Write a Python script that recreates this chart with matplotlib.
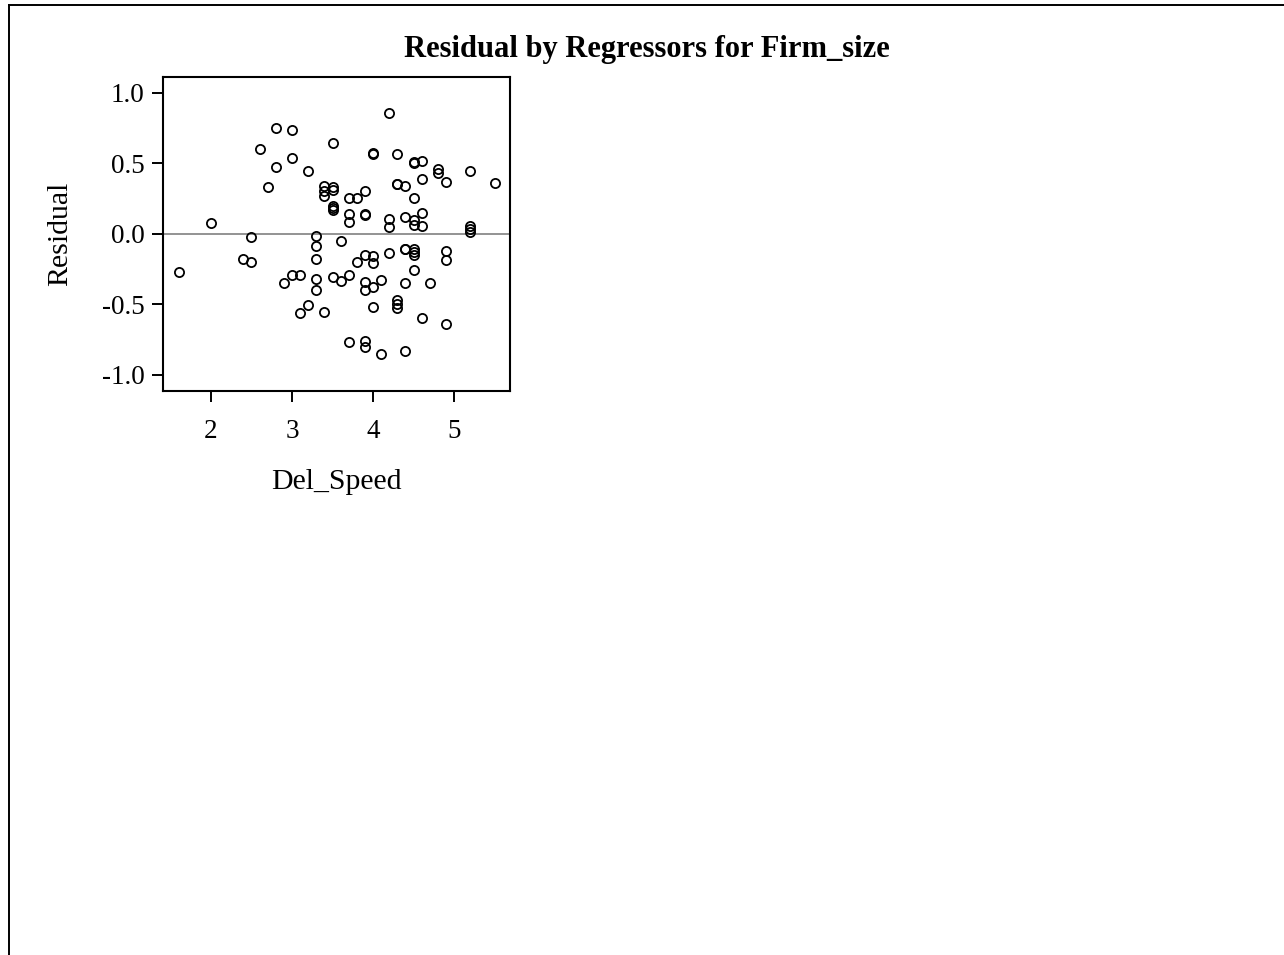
import matplotlib as mpl
mpl.use("Agg")
import matplotlib.pyplot as plt
from matplotlib.lines import Line2D
import numpy as np

plt.rcParams['font.family'] = ['Liberation Serif', 'DejaVu Serif']

# residuals by Del_Speed
del_speed = [1.6, 2.0, 2.4, 2.5, 2.5, 2.6, 2.7, 2.8, 2.8, 2.9,
             3.0, 3.0, 3.0, 3.1, 3.1, 3.2, 3.2,
             3.3, 3.3, 3.3, 3.3, 3.3,
             3.4, 3.4, 3.4, 3.4,
             3.5, 3.5, 3.5, 3.5, 3.5, 3.5, 3.5,
             3.6, 3.6,
             3.7, 3.7, 3.7, 3.7, 3.7,
             3.8, 3.8,
             3.9, 3.9, 3.9, 3.9, 3.9, 3.9, 3.9, 3.9,
             4.0, 4.0, 4.0, 4.0, 4.0, 4.0,
             4.1, 4.1,
             4.2, 4.2, 4.2, 4.2,
             4.3, 4.3, 4.3, 4.3, 4.3, 4.3,
             4.4, 4.4, 4.4, 4.4, 4.4, 4.4,
             4.5, 4.5, 4.5, 4.5, 4.5, 4.5, 4.5, 4.5, 4.5,
             4.6, 4.6, 4.6, 4.6, 4.6,
             4.7, 4.8, 4.8,
             4.9, 4.9, 4.9, 4.9,
             5.2, 5.2, 5.2, 5.2,
             5.5]
residual = [-0.27, 0.074, -0.18, -0.02, -0.20, 0.60, 0.33, 0.75, 0.47, -0.35,
            0.735, 0.54, -0.295, -0.29, -0.565, 0.445, -0.505,
            -0.014, -0.087, -0.177, -0.32, -0.40,
            0.34, 0.30, 0.265, -0.553,
            0.64, 0.333, 0.31, 0.196, 0.18, 0.168, -0.307,
            -0.055, -0.335,
            0.255, 0.14, 0.08, -0.293, -0.77,
            0.255, -0.20,
            0.30, 0.138, 0.134, -0.15, -0.345, -0.40, -0.76, -0.805,
            0.572, 0.568, -0.156, -0.21, -0.376, -0.518,
            -0.33, -0.853,
            0.854, 0.104, 0.05, -0.14,
            0.563, 0.355, 0.352, -0.47, -0.50, -0.527,
            0.336, 0.118, -0.108, -0.112, -0.35, -0.83,
            0.506, 0.502, 0.255, 0.097, 0.06, -0.11, -0.13, -0.153, -0.26,
            0.513, 0.386, 0.149, 0.052, -0.596,
            -0.352, 0.459, 0.428,
            0.367, -0.12, -0.187, -0.64,
            0.445, 0.055, 0.03, 0.012,
            0.357]

fig = plt.figure(figsize=(12.84, 9.55), dpi=100)

# page frame (top and left edges only)
fig.add_artist(Line2D([8.7/1284, 1.0], [1 - 5.3/955, 1 - 5.3/955], color='black', lw=1.4))
fig.add_artist(Line2D([8.7/1284, 8.7/1284], [0.0, 1 - 5.3/955], color='black', lw=1.4))

ax = fig.add_axes([0.1267, 0.5909, 0.2705, 0.3282])
ax.axhline(0, color='#808080', lw=1.2, zorder=1)
ax.plot(del_speed, residual, 'o', mfc='none', mec='black', ms=6.6, mew=1.3, zorder=2)

ax.set_xlim(1.404, 5.69)
ax.set_ylim(-1.113, 1.109)
ax.set_xticks([2, 3, 4, 5])
ax.set_yticks([-1.0, -0.5, 0.0, 0.5, 1.0])
ax.set_yticklabels(['-1.0', '-0.5', '0.0', '0.5', '1.0'])
ax.tick_params(direction='out', length=8, width=1.4, labelsize=19.5)
ax.tick_params(axis='x', pad=12.5)
ax.tick_params(axis='y', pad=5)
for s in ax.spines.values():
    s.set_linewidth(1.5)

ax.set_xlabel('Del_Speed', fontsize=21.5, labelpad=18)
ax.set_ylabel('Residual', fontsize=21.5, labelpad=21)

fig.text(0.504, 1 - 49/955, 'Residual by Regressors for Firm_size', ha='center', va='center',
         fontsize=22, fontweight='bold')

fig.savefig('out.png', dpi=100)
